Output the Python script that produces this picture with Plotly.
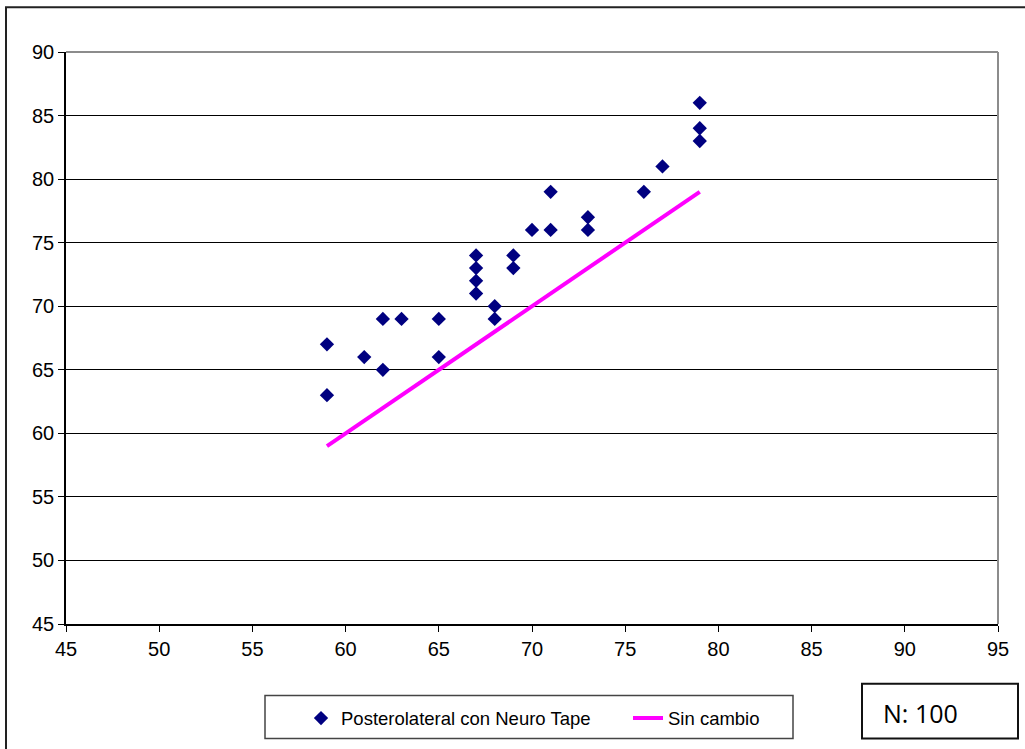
import plotly.graph_objects as go

# Measured values: x = before, y = after
x_vals = [59, 59, 61, 62, 62, 63, 65, 65, 67, 67, 67, 67, 68, 68,
          69, 69, 70, 71, 71, 73, 73, 76, 77, 79, 79, 79]
y_vals = [67, 63, 66, 69, 65, 69, 69, 66, 74, 73, 72, 71, 70, 69,
          74, 73, 76, 79, 76, 77, 76, 79, 81, 86, 84, 83]

# Identity reference line ("no change")
line_x = [59, 79]
line_y = [59, 79]

x_ticks = [45, 50, 55, 60, 65, 70, 75, 80, 85, 90, 95]
y_ticks = [45, 50, 55, 60, 65, 70, 75, 80, 85, 90]

W, H = 1025, 749
L, R, T, B = 66, 27, 52, 122
PW, PH = W - L - R, H - T - B


def px(xp):
    return (xp - L) / PW


def py(yp):
    return (H - B - yp) / PH


FONT = "Arial, Liberation Sans, sans-serif"

fig = go.Figure()
fig.add_trace(go.Scatter(
    x=x_vals, y=y_vals, mode="markers",
    name="Posterolateral con Neuro Tape",
    marker=dict(symbol="diamond", size=11, color="#000080",
                line=dict(width=0)),
    legendwidth=282,
))
fig.add_trace(go.Scatter(
    x=line_x, y=line_y, mode="lines", name="Sin cambio",
    line=dict(color="#FF00FF", width=4),
))

shapes = [
    # outer chart frame
    dict(type="rect", xref="paper", yref="paper",
         x0=px(6), x1=px(1032), y0=py(760), y1=py(7),
         line=dict(color="#222222", width=2), layer="below"),
    # plot area border (top and right)
    dict(type="line", xref="paper", yref="paper", x0=0, x1=1, y0=1, y1=1,
         line=dict(color="#8c8c8c", width=2)),
    dict(type="line", xref="paper", yref="paper", x0=1, x1=1, y0=0, y1=1,
         line=dict(color="#8c8c8c", width=2)),
    # legend frame
    dict(type="rect", xref="paper", yref="paper",
         x0=px(265), x1=px(793), y0=py(742), y1=py(699),
         line=dict(color="#444444", width=1.5)),
    # sample size box
    dict(type="rect", xref="paper", yref="paper",
         x0=px(862), x1=px(1018), y0=py(742), y1=py(687),
         line=dict(color="#111111", width=2)),
]

fig.update_layout(
    width=W, height=H,
    margin=dict(l=L, r=R, t=T, b=B, pad=0),
    paper_bgcolor="white", plot_bgcolor="white",
    font=dict(family=FONT, color="black"),
    shapes=shapes,
    showlegend=True,
    legend=dict(
        orientation="h", x=px(301), xanchor="left",
        y=py(722), yanchor="middle",
        font=dict(family=FONT, size=18.5, color="black"),
        bgcolor="rgba(0,0,0,0)", borderwidth=0,
    ),
    annotations=[dict(
        text="N: 100", xref="paper", yref="paper",
        x=px(881), y=py(716), xanchor="left", yanchor="middle",
        showarrow=False,
        font=dict(family="Open Sans, sans-serif", size=25, color="black"),
    )],
)

fig.update_xaxes(
    range=[45, 95], tickvals=x_ticks, ticktext=[str(v) for v in x_ticks],
    showgrid=False, zeroline=False,
    showline=True, linecolor="black", linewidth=1.5,
    ticks="outside", ticklen=6, tickcolor="black", tickwidth=1,
    tickfont=dict(family=FONT, size=20, color="black"),
)
fig.update_yaxes(
    range=[45, 90], tickvals=y_ticks, ticktext=[str(v) for v in y_ticks],
    showgrid=True, gridcolor="black", gridwidth=1, zeroline=False,
    showline=True, linecolor="black", linewidth=1.5,
    ticks="outside", ticklen=6, tickcolor="black", tickwidth=1,
    tickfont=dict(family=FONT, size=20, color="black"),
)

fig.write_html("out.html")
